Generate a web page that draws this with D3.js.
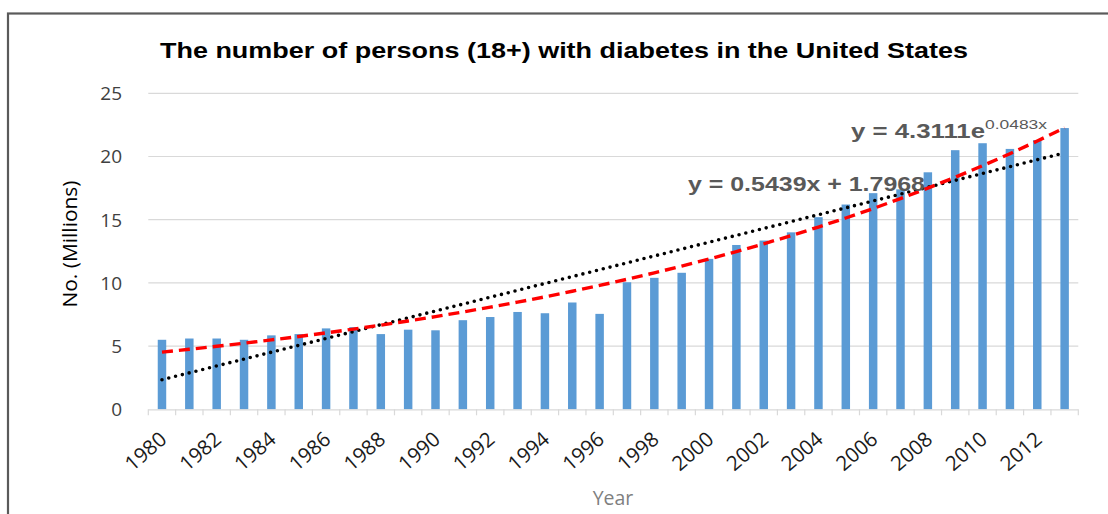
<!DOCTYPE html>
<html>
<head>
<meta charset="utf-8">
<script src="https://cdn.jsdelivr.net/npm/d3@7"></script>
<style>
  html, body { margin: 0; padding: 0; background: #fff; }
  svg { display: block; }
</style>
</head>
<body>
<svg id="chart" width="1108" height="514"></svg>
<script>
// Adults (18+) with diagnosed diabetes in the US, millions
const years = d3.range(1980, 2014);
const persons = [5.5, 5.6, 5.6, 5.5, 5.85, 5.95, 6.4, 6.5, 5.95, 6.3,
                 6.25, 7.05, 7.3, 7.7, 7.6, 8.45, 7.55, 10.05, 10.4, 10.8,
                 11.9, 13.0, 13.35, 14.0, 15.2, 16.2, 17.1, 17.4, 18.75, 20.5,
                 21.05, 20.6, 21.3, 22.25];
const yTicks = [0, 5, 10, 15, 20, 25];
const xTickLabels = d3.range(1980, 2013, 2);

// Trendline coefficients (x = 1 for 1980)
const linearFit = { slope: 0.5439, intercept: 1.7968 };
const expFit = { a: 4.3111, b: 0.0483 };

const svg = d3.select("#chart");
const plotLeft = 148.3, plotRight = 1078.3, plotTop = 93.3, plotBottom = 409.3;

// outer frame
svg.append("rect")
  .attr("x", 8).attr("y", 13.5).attr("width", 1200).attr("height", 600)
  .attr("fill", "#fff").attr("stroke", "#5a5a5a").attr("stroke-width", 2.2);

const x = d3.scaleBand().domain(years).range([plotLeft, plotRight])
  .paddingInner(0.69).paddingOuter(0.345);
const y = d3.scaleLinear().domain([0, 25]).range([plotBottom, plotTop]);

// gridlines
svg.append("g").selectAll("line").data(yTicks.filter(d => d > 0)).join("line")
  .attr("x1", plotLeft).attr("x2", plotRight)
  .attr("y1", d => y(d)).attr("y2", d => y(d))
  .attr("stroke", "#d9d9d9").attr("stroke-width", 1.2);

// y tick labels
svg.append("g").selectAll("text").data(yTicks).join("text")
  .attr("x", 122).attr("y", d => y(d)).attr("dy", "0.36em")
  .attr("text-anchor", "end")
  .attr("font-family", "'Open Sans', sans-serif").attr("font-size", 19)
  .attr("fill", "#404040")
  .text(d => d);

// bars
svg.append("g").selectAll("rect").data(years).join("rect")
  .attr("x", d => x(d)).attr("width", x.bandwidth())
  .attr("y", (d, i) => y(persons[i]))
  .attr("height", (d, i) => y(0) - y(persons[i]))
  .attr("fill", "#5b9bd5");

// x axis line + ticks at category boundaries
const step = x.step();
const gx = svg.append("g").attr("transform", `translate(0,${plotBottom})`);
gx.append("line").attr("x1", plotLeft).attr("x2", plotRight)
  .attr("y1", 0.5).attr("y2", 0.5)
  .attr("stroke", "#d9d9d9").attr("stroke-width", 1.2);
gx.append("g").selectAll("line").data(d3.range(years.length + 1)).join("line")
  .attr("x1", i => plotLeft + i * step).attr("x2", i => plotLeft + i * step)
  .attr("y1", 0).attr("y2", 6)
  .attr("stroke", "#d9d9d9").attr("stroke-width", 1.2);

// x tick labels (every other year)
svg.append("g").selectAll("text").data(xTickLabels).join("text")
  .attr("transform", d => `translate(${x(d) + x.bandwidth() / 2 + 6},${plotBottom + 32}) rotate(-41)`)
  .attr("text-anchor", "end")
  .attr("font-family", "'Open Sans', sans-serif").attr("font-size", 20.5)
  .attr("fill", "#1a1a1a")
  .text(d => d);

// trendlines
const cx = d => x(d) + x.bandwidth() / 2;
const linePts = years.map((d, i) => [cx(d), y(linearFit.slope * (i + 1) + linearFit.intercept)]);
const expPts = years.map((d, i) => [cx(d), y(expFit.a * Math.exp(expFit.b * (i + 1)))]);
const lineGen = d3.line();

svg.append("path").attr("d", lineGen(linePts))
  .attr("fill", "none").attr("stroke", "#000").attr("stroke-width", 3.6)
  .attr("stroke-linecap", "round").attr("stroke-dasharray", "0,7");

svg.append("path").attr("d", lineGen(expPts))
  .attr("fill", "none").attr("stroke", "#ff0000").attr("stroke-width", 3.4)
  .attr("stroke-dasharray", "11,6");

// equation labels
svg.append("text")
  .attr("x", 688).attr("y", 191)
  .attr("font-family", "'Liberation Sans', Arial, sans-serif").attr("font-weight", "bold")
  .attr("font-size", 20).attr("fill", "#595959")
  .attr("textLength", 237).attr("lengthAdjust", "spacingAndGlyphs")
  .text(`y = ${linearFit.slope}x + ${linearFit.intercept}`);

const eq2 = svg.append("text")
  .attr("x", 851).attr("y", 137.5)
  .attr("font-family", "'Liberation Sans', Arial, sans-serif").attr("font-weight", "bold")
  .attr("font-size", 20).attr("fill", "#595959");
eq2.append("tspan").attr("textLength", 134).attr("lengthAdjust", "spacingAndGlyphs")
  .text(`y = ${expFit.a}e`);
eq2.append("tspan").attr("x", 985).attr("y", 128.5).attr("font-size", 13)
  .attr("font-weight", "normal")
  .attr("textLength", 62).attr("lengthAdjust", "spacingAndGlyphs")
  .text(`${expFit.b}x`);

// title
svg.append("text")
  .attr("x", 564).attr("y", 58).attr("text-anchor", "middle")
  .attr("font-family", "'Liberation Sans', Arial, sans-serif")
  .attr("font-weight", "bold")
  .attr("font-size", 22).attr("fill", "#000")
  .attr("textLength", 808).attr("lengthAdjust", "spacingAndGlyphs")
  .text("The number of persons (18+) with diabetes in the United States");

// axis titles
svg.append("text")
  .attr("transform", `translate(77,244) rotate(-90)`)
  .attr("text-anchor", "middle")
  .attr("font-family", "'Open Sans', sans-serif").attr("font-size", 19.5)
  .attr("fill", "#000")
  .attr("textLength", 127).attr("lengthAdjust", "spacingAndGlyphs")
  .text("No. (Millions)");

svg.append("text")
  .attr("x", 613).attr("y", 505).attr("text-anchor", "middle")
  .attr("font-family", "'Open Sans', sans-serif").attr("font-size", 19.5)
  .attr("fill", "#7f7f7f")
  .text("Year");
</script>
</body>
</html>
